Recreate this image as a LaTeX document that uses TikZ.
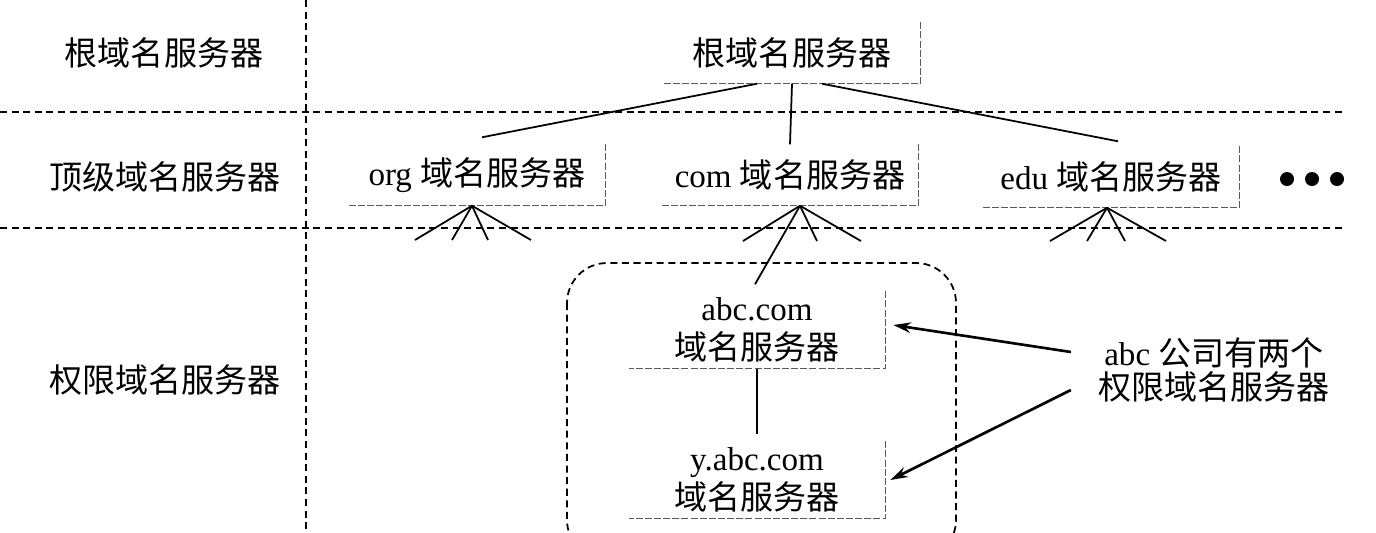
\documentclass[tikz,border=0pt]{standalone}
\usepackage{fontspec}
\setmainfont{Liberation Serif}
\newfontfamily\cjk{Noto Sans CJK SC}
\newcommand\hz[1]{{\cjk #1}}
\usetikzlibrary{arrows.meta}

\begin{document}
\begin{tikzpicture}[x=0.01cm,y=-0.01cm,
	tier/.style={font=\fontsize{9.4}{11}\selectfont},
	server/.style={minimum width=2.55cm,minimum height=0.6cm,inner sep=0pt,align=center,font=\fontsize{9.4}{11}\selectfont},
	srvedge/.style={gray!70!black,line width=0.4pt,dash pattern=on 2pt off 0.6pt},
	grid/.style={line width=0.5pt,dash pattern=on 2pt off 1.3pt},
	link/.style={line width=0.5pt},
	pointer/.style={line width=0.75pt,-{Stealth[length=5pt,width=3pt]}}]
	\useasboundingbox (0,0) rectangle (1376,532);
	% levels
	\draw[grid] (306,0) -- (306,532);
	\draw[grid] (0,112) -- (1345,112);
	\draw[grid] (0,228) -- (1345,228);
	\node[tier] (t1) at (164,53) {\hz{根域名服务器}};
	\node[tier] (t2) at (165,177) {\hz{顶级域名服务器}};
	\node[tier] (t3) at (165,380) {\hz{权限域名服务器}};
	% servers
	\node[server] (root) at (792,53) {\hz{根域名服务器}};
	\node[server] (org) at (477,175) {org \hz{域名服务器}};
	\node[server] (com) at (790,175) {com \hz{域名服务器}};
	\node[server] (edu) at (1111,177) {edu \hz{域名服务器}};
	\node[server,minimum height=0.76cm] (abc) at (757,330) {abc.com\\\hz{域名服务器}};
	\node[server,minimum height=0.76cm] (yabc) at (757,480) {y.abc.com\\\hz{域名服务器}};
	\foreach \n in {root,org,com,edu,abc,yabc}
		\draw[srvedge] (\n.north east) -- (\n.south east) -- (\n.south west);
	\foreach \n in {1,2,3}
		\fill (1262+25*\n,179) circle (0.07cm);
	% tree
	\draw[link] ([xshift=-0.35cm]root.south) -- ([xshift=0.05cm,yshift=0.07cm]org.north);
	\draw[link] (root.south) -- (com.north);
	\draw[link] ([xshift=0.3cm]root.south) -- ([xshift=0.07cm,yshift=0.05cm]edu.north);
	\foreach \x [count=\i] in {415,452,488,531} \coordinate (orgleaf\i) at (\x,240);
	\foreach \x [count=\i] in {743,817,861} \coordinate (comleaf\i) at (\x,241);
	\foreach \x [count=\i] in {1050,1087,1125,1166} \coordinate (eduleaf\i) at (\x,241);
	\foreach \i in {1,...,4} \draw[link] ([xshift=-0.05cm]org.south) -- (orgleaf\i);
	\foreach \i in {1,...,3} \draw[link] ([xshift=0.1cm]com.south) -- (comleaf\i);
	\foreach \i in {1,...,4} \draw[link] ([xshift=-0.04cm]edu.south) -- (eduleaf\i);
	\draw[link] ([xshift=0.1cm]com.south) -- ([xshift=-0.02cm,yshift=0.07cm]abc.north);
	\draw[link] (abc.south) -- ([yshift=0.07cm]yabc.north);
	% abc zone
	\draw[grid,rounded corners=0.4cm] (567,263) rectangle (956,560);
	\node[tier,align=center,font=\fontsize{9.4}{9.8}\selectfont] (note) at (1214,370) {abc \hz{公司有两个}\\\hz{权限域名服务器}};
	\draw[pointer] ([xshift=-0.15cm,yshift=0.18cm]note.west) -- ([xshift=0.08cm,yshift=0.05cm]abc.east);
	\draw[pointer] ([xshift=-0.15cm,yshift=-0.2cm]note.west) -- ([xshift=0.05cm]yabc.east);
\end{tikzpicture}
\end{document}
